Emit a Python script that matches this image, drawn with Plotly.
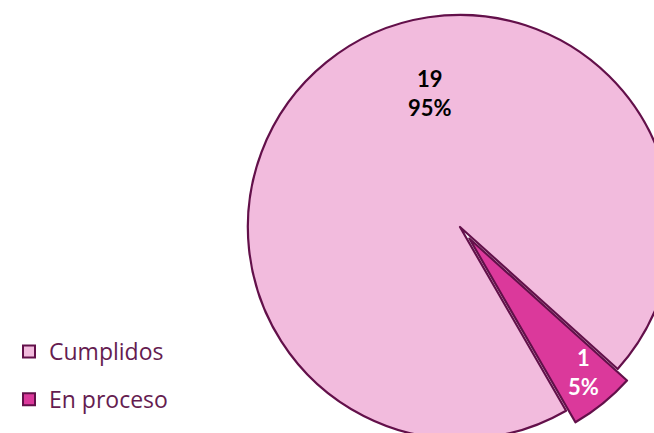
import plotly.graph_objects as go

labels = ["Cumplidos", "En proceso"]
values = [19, 1]
fill_colors = ["#F2BBDD", "#DB399B"]
label_colors = ["#000000", "#FFFFFF"]
outline = "#63104A"
text_color = "#651C50"

FIG_W, FIG_H = 700, 460
total = sum(values)
percents = [round(v / total * 100) for v in values]

fig = go.Figure()

fig.add_trace(go.Pie(
    labels=labels,
    values=values,
    sort=False,
    direction="clockwise",
    rotation=150,
    pull=[0, 0.07],
    marker=dict(colors=fill_colors, line=dict(color=outline, width=2.2)),
    textinfo="none",
    hoverinfo="none",
    showlegend=False,
    domain=dict(x=[(460 - 227) / FIG_W, (460 + 227) / FIG_W], y=[1 - 454 / FIG_H, 1]),
))

# legend entries built from the category list
for i, lab in enumerate(labels):
    fig.add_trace(go.Scatter(
        x=[None], y=[None], mode="markers", name=lab,
        legendgroup=lab,
        marker=dict(symbol="square", size=12, color=fill_colors[i],
                    line=dict(color=outline, width=2)),
        showlegend=True, hoverinfo="skip",
    ))

# data labels (value + percent) derived from the data
label_pos = [(430, 93), (583, 372)]
for i in range(len(labels)):
    x, y = label_pos[i]
    fig.add_annotation(
        x=x / FIG_W, y=1 - y / FIG_H, xref="paper", yref="paper",
        text=f"<b>{values[i]}</b><br><b>{percents[i]}%</b>",
        showarrow=False, xanchor="center", yanchor="middle",
        font=dict(family="Lato, sans-serif", size=22, color=label_colors[i]),
    )

fig.update_layout(
    width=FIG_W, height=FIG_H,
    margin=dict(l=0, r=0, t=0, b=0),
    paper_bgcolor="white", plot_bgcolor="white",
    xaxis=dict(visible=False), yaxis=dict(visible=False),
    hovermode=False,
    showlegend=True,
    legend=dict(
        x=9 / FIG_W, y=1 - 330 / FIG_H, xanchor="left", yanchor="top",
        traceorder="grouped", tracegroupgap=15,
        font=dict(family="Open Sans, sans-serif", size=23, color=text_color),
        bgcolor="rgba(0,0,0,0)",
    ),
)

fig.write_html("out.html", config={"displayModeBar": False},
               post_script="document.body.style.margin='0px';")
